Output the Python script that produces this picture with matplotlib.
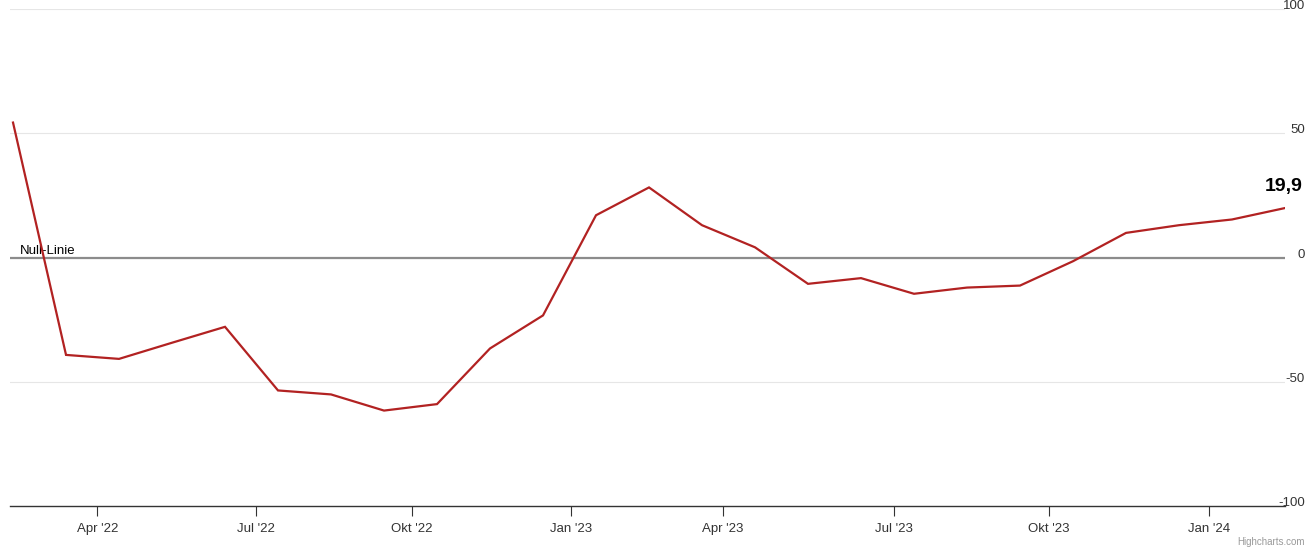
import matplotlib
matplotlib.use("Agg")
import matplotlib.pyplot as plt
import matplotlib.transforms as mtransforms
import numpy as np

plt.rcParams['font.family'] = ['Liberation Sans', 'DejaVu Sans']

# --- Data (monthly survey values, points evenly spaced like an ordinal axis) ---
values = [54.3, -39.2, -40.8, -34.3, -27.9, -53.5, -55.1, -61.6, -59.0, -36.6,
          -23.3, 17.0, 28.2, 13.0, 4.1, -10.6, -8.3, -14.6, -12.1, -11.3,
          -1.5, 9.9, 13.0, 15.3, 19.9]
tick_pos = [1.59, 4.59, 7.52, 10.53, 13.39, 16.63, 19.54, 22.57]
tick_labels = ["Apr '22", "Jul '22", "Okt '22", "Jan '23",
               "Apr '23", "Jul '23", "Okt '23", "Jan '24"]
y_ticks = [-100, -50, 0, 50, 100]
last_label = "19,9"

LINE_COLOR = "#b22222"
PX = 200 / 497  # data units per pixel on the y axis

fig = plt.figure(figsize=(13.16, 5.51), dpi=100)
ax = fig.add_axes([10 / 1316, 45 / 551, 1275 / 1316, 497 / 551])

x = np.arange(len(values))
ax.plot(x, values, color=LINE_COLOR, linewidth=1.6, solid_joinstyle='miter', zorder=4)

ax.set_xlim(-0.057, len(values) - 1)
ax.set_ylim(-100, 100)

# grid lines
for v in y_ticks:
    if v == -100:
        continue
    ax.axhline(v, color="#e6e6e6", linewidth=0.8, zorder=1)
ax.axhline(0, color="#8c8c8c", linewidth=1.6, zorder=2)

for s in ["top", "right", "left"]:
    ax.spines[s].set_visible(False)
ax.spines["bottom"].set_color("#333333")
ax.spines["bottom"].set_linewidth(1.0)

ax.set_yticks([])
ax.set_xticks(tick_pos)
ax.set_xticklabels(tick_labels, fontsize=9.5, color="#333333")
ax.tick_params(axis='x', length=7, width=0.8, color="#333333", pad=5)

# y labels on the right, sitting just above each grid line
trans = mtransforms.blended_transform_factory(ax.transAxes, ax.transData)
for v in y_ticks:
    ax.text(1.0157, v + 3 * PX, str(v), transform=trans, ha='right', va='center',
            fontsize=9.5, color="#333333", clip_on=False)

ax.text(10 / 1275, 7 * PX, "Null-Linie", transform=trans, ha='left', va='center',
        fontsize=9.5, color="black")

ax.text(1.0142, values[-1] + 22 * PX, last_label, transform=trans,
        ha='right', va='center', fontsize=14, fontweight='bold', color="black",
        clip_on=False)

fig.text(1305 / 1316, 1 - 542 / 551, "Highcharts.com", ha='right', va='center',
         fontsize=7, color="#999999")

fig.savefig("out.png", dpi=100)
